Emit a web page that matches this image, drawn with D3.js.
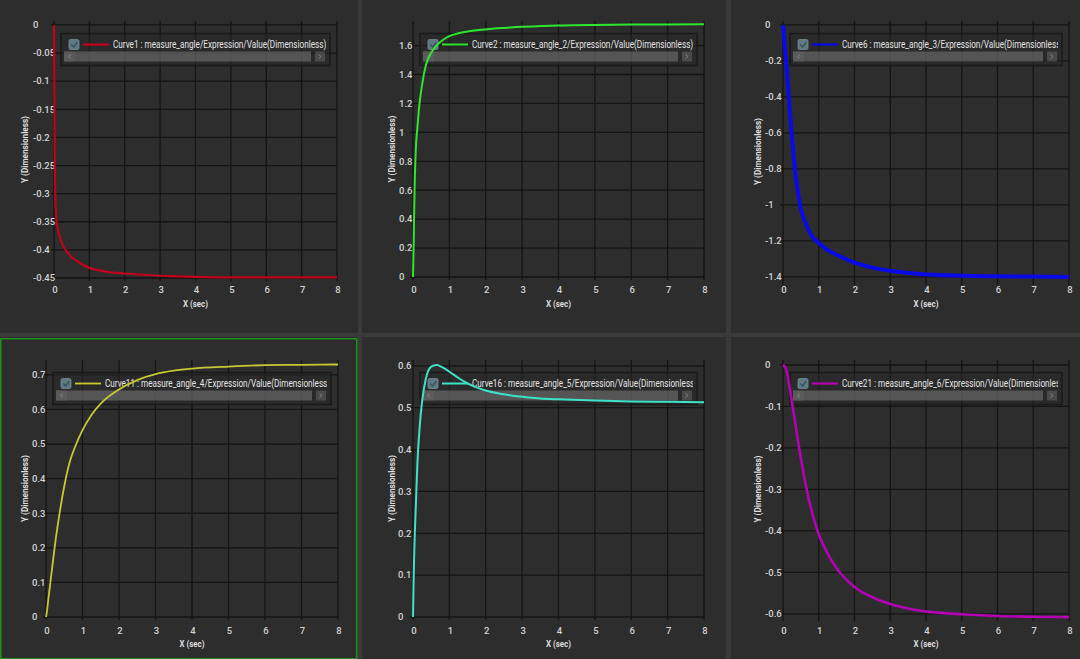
<!DOCTYPE html>
<html>
<head>
<meta charset="utf-8">
<script src="https://cdn.jsdelivr.net/npm/d3@7"></script>
<style>
	html, body { margin: 0; padding: 0; background: #3a3a3a; overflow: hidden; }
	svg { display: block; }
</style>
</head>
<body>
<div id="chart"></div>
<script>
// sample times (sec) shared by all six curves
const timeSec = [0, 0.01, 0.02, 0.03, 0.05, 0.08, 0.12, 0.18, 0.25, 0.35, 0.5, 0.65, 0.8,
	1, 1.25, 1.5, 2, 2.5, 3, 3.5, 4, 5, 6, 7, 8];

// values
const curve1 = [0, -0.12, -0.22, -0.28, -0.33, -0.352, -0.366, -0.38, -0.392, -0.402, -0.413, -0.42, -0.426,
	-0.432, -0.436, -0.439, -0.442, -0.444, -0.446, -0.447, -0.448, -0.449, -0.449, -0.449, -0.449];
const curve2 = [0, 0.12, 0.25, 0.42, 0.68, 0.9, 1.03, 1.2, 1.33, 1.46, 1.55, 1.6, 1.635,
	1.665, 1.685, 1.697, 1.712, 1.722, 1.73, 1.735, 1.739, 1.743, 1.745, 1.746, 1.747];
const curve6 = [0, -0.02, -0.045, -0.07, -0.115, -0.18, -0.29, -0.45, -0.62, -0.83, -1.02, -1.11, -1.17,
	-1.211, -1.25, -1.277, -1.32, -1.348, -1.366, -1.378, -1.386, -1.393, -1.396, -1.398, -1.4];
const curve11 = [0, 0.005, 0.012, 0.02, 0.038, 0.066, 0.1, 0.152, 0.212, 0.285, 0.378, 0.448, 0.493,
	0.54, 0.585, 0.617, 0.658, 0.685, 0.702, 0.712, 0.718, 0.724, 0.728, 0.729, 0.73];
const curve16 = [0, 0.05, 0.1, 0.14, 0.2, 0.27, 0.365, 0.45, 0.515, 0.568, 0.598, 0.602, 0.597,
	0.586, 0.571, 0.558, 0.541, 0.532, 0.526, 0.522, 0.52, 0.517, 0.515, 0.514, 0.513];
const curve21 = [0, -0.0005, -0.001, -0.002, -0.004, -0.008, -0.022, -0.052, -0.09, -0.145, -0.225, -0.295, -0.352,
	-0.408, -0.455, -0.49, -0.535, -0.56, -0.576, -0.587, -0.594, -0.601, -0.605, -0.607, -0.608];

const curveLabels = [
	"Curve1 : measure_angle/Expression/Value(Dimensionless)",
	"Curve2 : measure_angle_2/Expression/Value(Dimensionless)",
	"Curve6 : measure_angle_3/Expression/Value(Dimensionless)",
	"Curve11 : measure_angle_4/Expression/Value(Dimensionless)",
	"Curve16 : measure_angle_5/Expression/Value(Dimensionless)",
	"Curve21 : measure_angle_6/Expression/Value(Dimensionless)"
];
const curveValues = [curve1, curve2, curve6, curve11, curve16, curve21];

const xTicks = [0, 1, 2, 3, 4, 5, 6, 7, 8];
const yTicks = [
	[0, -0.05, -0.1, -0.15, -0.2, -0.25, -0.3, -0.35, -0.4, -0.45],
	[0, 0.2, 0.4, 0.6, 0.8, 1, 1.2, 1.4, 1.6],
	[0, -0.2, -0.4, -0.6, -0.8, -1, -1.2, -1.4],
	[0, 0.1, 0.2, 0.3, 0.4, 0.5, 0.6, 0.7],
	[0, 0.1, 0.2, 0.3, 0.4, 0.5, 0.6],
	[0, -0.1, -0.2, -0.3, -0.4, -0.5, -0.6]
];
const xTitle = "X (sec)";
const yTitle = "Y (Dimensionless)";

// panel geometry (pixels) and axis extents
const layout = [
	{ px: 0,   py: 0,   pw: 358, ph: 333, l: 54,  r: 337,  t: 21,  b: 278, yMin: -0.45,  yMax: 0.007, labX: 33,  titX: 25,  color: "#c0001c", lw: 2.2 },
	{ px: 362, py: 0,   pw: 364, ph: 333, l: 413, r: 704,  t: 21,  b: 277, yMin: 0,      yMax: 1.77,  labX: 399, titX: 392, color: "#2ee52e", lw: 2.0 },
	{ px: 731, py: 0,   pw: 349, ph: 333, l: 783, r: 1069, t: 21,  b: 282, yMin: -1.428, yMax: 0.022, labX: 765, titX: 758, color: "#0a0ae6", lw: 4.0 },
	{ px: 0,   py: 337, pw: 358, ph: 322, l: 46,  r: 338,  t: 360, b: 617, yMin: 0,      yMax: 0.743, labX: 32,  titX: 25,  color: "#c8c832", lw: 1.8 },
	{ px: 362, py: 337, pw: 364, ph: 322, l: 413, r: 704,  t: 360, b: 617, yMin: 0,      yMax: 0.614, labX: 398, titX: 392, color: "#3ee2c6", lw: 2.0 },
	{ px: 731, py: 337, pw: 349, ph: 322, l: 783, r: 1069, t: 360, b: 618, yMin: -0.61,  yMax: 0.012, labX: 765, titX: 758, color: "#b400b4", lw: 2.6 }
];
const rowTickY = [290, 631];
const rowTitleY = [304, 644];

const width = 1080, height = 659;
const font = "Roboto, 'Noto Sans', sans-serif";

const svg = d3.select("#chart").append("svg")
	.attr("width", width)
	.attr("height", height);

svg.append("rect")
	.attr("width", width).attr("height", height)
	.attr("fill", "#3a3a3a");

const defs = svg.append("defs");

layout.forEach((p, k) => {
	const row = k < 3 ? 0 : 1;
	const g = svg.append("g");

	g.append("rect")
		.attr("x", p.px).attr("y", p.py)
		.attr("width", p.pw).attr("height", p.ph)
		.attr("fill", "#2d2d2d");

	const x = d3.scaleLinear().domain([0, 8]).range([p.l, p.r]);
	const y = d3.scaleLinear().domain([p.yMin, p.yMax]).range([p.b, p.t]);

	// grid
	g.selectAll("line.vgrid")
		.data(xTicks)
		.join("line")
		.attr("class", "vgrid")
		.attr("x1", d => x(d)).attr("x2", d => x(d))
		.attr("y1", p.t).attr("y2", p.b + 3)
		.attr("stroke", "#151515").attr("stroke-width", 1.3);

	g.selectAll("line.hgrid")
		.data(yTicks[k])
		.join("line")
		.attr("class", "hgrid")
		.attr("x1", p.l - 3).attr("x2", p.r)
		.attr("y1", d => y(d)).attr("y2", d => y(d))
		.attr("stroke", "#151515").attr("stroke-width", 1.3);

	// tick labels
	g.selectAll("text.xlab")
		.data(xTicks)
		.join("text")
		.attr("class", "xlab")
		.attr("x", d => x(d) + 1)
		.attr("y", rowTickY[row])
		.attr("dy", "0.35em")
		.attr("text-anchor", "middle")
		.attr("fill", "#d2d2d2")
		.style("font", `500 9.5px ${font}`)
		.text(d => d);

	g.selectAll("text.ylab")
		.data(yTicks[k])
		.join("text")
		.attr("class", "ylab")
		.attr("x", p.labX)
		.attr("y", d => y(d))
		.attr("dy", "0.35em")
		.attr("text-anchor", "start")
		.attr("fill", "#d2d2d2")
		.style("font", `500 9.5px ${font}`)
		.text(d => d3.format("")(d).replace("−", "-"));

	// axis titles
	g.append("text")
		.attr("x", (p.l + p.r) / 2)
		.attr("y", rowTitleY[row])
		.attr("dy", "0.35em")
		.attr("text-anchor", "middle")
		.attr("fill", "#dcdcdc")
		.attr("textLength", 25)
		.attr("lengthAdjust", "spacingAndGlyphs")
		.style("font", `bold 9.5px ${font}`)
		.text(xTitle);

	g.append("text")
		.attr("transform", `translate(${p.titX},${(p.t + p.b) / 2}) rotate(-90)`)
		.attr("dy", "0.35em")
		.attr("text-anchor", "middle")
		.attr("fill", "#dcdcdc")
		.attr("textLength", 67)
		.attr("lengthAdjust", "spacingAndGlyphs")
		.style("font", `bold 9.5px ${font}`)
		.text(yTitle);

	// legend
	const lx = p.l + 7, ly = p.t + 12.5, lw = (p.r - 7) - lx, lh = 32;
	const lg = g.append("g");
	lg.append("rect")
		.attr("x", lx).attr("y", ly)
		.attr("width", lw).attr("height", lh)
		.attr("fill", "rgba(40,40,40,0.55)")
		.attr("stroke", "#1a1a1a").attr("stroke-width", 1.5);

	lg.append("rect")
		.attr("x", lx + 8).attr("y", ly + 6)
		.attr("width", 10).attr("height", 10).attr("rx", 1.5)
		.attr("fill", "#5f7882").attr("stroke", "#738c96").attr("stroke-width", 0.8);
	lg.append("path")
		.attr("d", `M${lx + 10.3},${ly + 11} l2.3,2.4 l3.8,-4.8`)
		.attr("fill", "none").attr("stroke", "#35505b").attr("stroke-width", 1.3);

	lg.append("line")
		.attr("x1", lx + 22).attr("x2", lx + 48)
		.attr("y1", ly + 11).attr("y2", ly + 11)
		.attr("stroke", p.color).attr("stroke-width", Math.min(p.lw, 2.2));

	const clipId = `legclip${k}`;
	defs.append("clipPath").attr("id", clipId)
		.append("rect")
		.attr("x", lx).attr("y", ly)
		.attr("width", lw - 4).attr("height", lh);

	lg.append("text")
		.attr("clip-path", `url(#${clipId})`)
		.attr("x", lx + 52)
		.attr("y", ly + 11)
		.attr("dy", "0.35em")
		.attr("fill", "#e2e2e2")
		.attr("textLength", curveLabels[k].length * 3.95)
		.attr("lengthAdjust", "spacingAndGlyphs")
		.style("font", `11px ${font}`)
		.text(curveLabels[k]);

	// scroll bar under the legend entry
	lg.append("rect")
		.attr("x", lx + 3).attr("y", ly + 18)
		.attr("width", lw - 22).attr("height", 10)
		.attr("fill", "rgba(120,120,120,0.55)");
	lg.append("rect")
		.attr("x", lx + 3).attr("y", ly + 18)
		.attr("width", 11).attr("height", 10)
		.attr("fill", "rgba(95,95,95,0.6)");
	lg.append("rect")
		.attr("x", lx + lw - 15).attr("y", ly + 18)
		.attr("width", 10).attr("height", 10)
		.attr("fill", "rgba(100,100,100,0.55)");
	lg.append("path")
		.attr("d", `M${lx + 10},${ly + 21} l-2.5,2 l2.5,2 M${lx + lw - 11.5},${ly + 21} l2.5,2 l-2.5,2`)
		.attr("fill", "none").attr("stroke", "#8a8a8a").attr("stroke-width", 0.8);

	// curve
	const pts = timeSec.map((t, i) => [t, curveValues[k][i]]);
	const line = d3.line()
		.x(d => x(d[0]))
		.y(d => y(d[1]))
		.curve(d3.curveMonotoneX);

	g.append("path")
		.datum(pts)
		.attr("d", line)
		.attr("fill", "none")
		.attr("stroke", p.color)
		.attr("stroke-width", p.lw)
		.attr("stroke-linejoin", "round");
});

// active panel frame
svg.append("rect")
	.attr("x", 0.75).attr("y", 338.75)
	.attr("width", 356).attr("height", 320)
	.attr("fill", "none")
	.attr("stroke", "#1f8f1f")
	.attr("stroke-width", 1.5);
</script>
</body>
</html>
